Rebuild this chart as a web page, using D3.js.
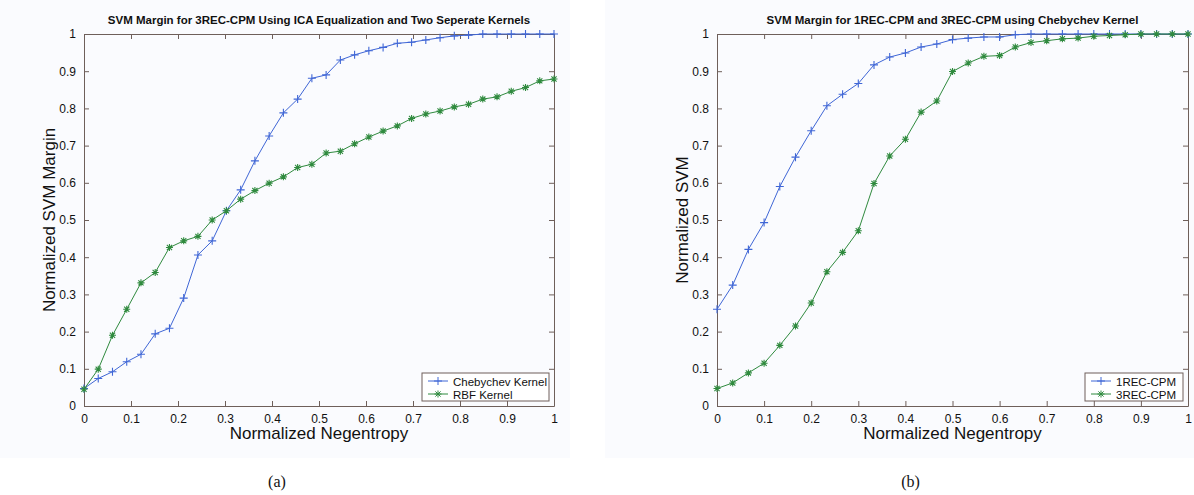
<!DOCTYPE html>
<html>
<head>
<meta charset="utf-8">
<script src="https://cdn.jsdelivr.net/npm/d3@7"></script>
<style>
  body { margin: 0; background: #fff; }
  svg { display: block; }
  text { font-family: Arial, "Liberation Sans", sans-serif; fill: #111; }
</style>
</head>
<body>
<svg id="chart" width="1194" height="495"></svg>
<script>
// panel (a): x = i/33
const chebyA = [0.047, 0.074, 0.092, 0.119, 0.139, 0.194, 0.209, 0.290, 0.406, 0.444,
  0.525, 0.581, 0.659, 0.726, 0.788, 0.825, 0.881, 0.890, 0.930, 0.944,
  0.955, 0.964, 0.975, 0.978, 0.984, 0.990, 0.995, 0.997, 1, 1, 1, 1, 1, 1];
const rbfA = [0.045, 0.099, 0.190, 0.260, 0.331, 0.359, 0.426, 0.444, 0.456, 0.500,
  0.525, 0.556, 0.579, 0.599, 0.616, 0.641, 0.650, 0.680, 0.685, 0.705,
  0.723, 0.739, 0.753, 0.773, 0.785, 0.793, 0.804, 0.811, 0.825, 0.831,
  0.846, 0.856, 0.874, 0.879];
// panel (b): x = i/30
const rec1B = [0.260, 0.325, 0.421, 0.493, 0.590, 0.669, 0.740, 0.807, 0.838, 0.867,
  0.917, 0.938, 0.949, 0.965, 0.973, 0.985, 0.989, 0.992, 0.992, 0.998,
  1, 1, 1, 1, 1, 1, 1, 1, 1, 1, 1];
const rec3B = [0.047, 0.062, 0.089, 0.115, 0.163, 0.215, 0.277, 0.361, 0.413, 0.471,
  0.598, 0.672, 0.717, 0.790, 0.820, 0.899, 0.922, 0.940, 0.942, 0.965,
  0.977, 0.982, 0.987, 0.989, 0.994, 0.996, 0.998, 1, 1, 1, 1];
const xTicks = [0, 0.1, 0.2, 0.3, 0.4, 0.5, 0.6, 0.7, 0.8, 0.9, 1];
const yTicks = [0, 0.1, 0.2, 0.3, 0.4, 0.5, 0.6, 0.7, 0.8, 0.9, 1];

const blue = "#3f66d6", green = "#2f8a3e", axisCol = "#6e5f5a";
const svg = d3.select("#chart");
const fmt = d => d === 0 || d === 1 ? String(d) : d3.format(".1f")(d);
const plus = "M-4,0H4M0,-4V4";
const star = "M-3.5,0H3.5M0,-3.5V3.5M-2.6,-2.6L2.6,2.6M-2.6,2.6L2.6,-2.6";

function panel(opts) {
  const g = svg.append("g");
  const [x0, x1, y0, y1] = opts.box;
  g.append("rect").attr("x", opts.bg[0]).attr("y", 0).attr("width", opts.bg[1])
    .attr("height", 458).attr("fill", "#fafbfe");

  const x = d3.scaleLinear().domain([0, 1]).range([x0, x1]);
  const y = d3.scaleLinear().domain([0, 1]).range([y1, y0]);

  // box with inward ticks on all four sides
  const axB = d3.axisBottom(x).tickValues(xTicks).tickSizeInner(-5).tickSizeOuter(0).tickPadding(8).tickFormat(fmt);
  const axT = d3.axisTop(x).tickValues(xTicks).tickSizeInner(-5).tickSizeOuter(0).tickFormat("");
  const axL = d3.axisLeft(y).tickValues(yTicks).tickSizeInner(-5).tickSizeOuter(0).tickPadding(8).tickFormat(fmt);
  const axR = d3.axisRight(y).tickValues(yTicks).tickSizeInner(-5).tickSizeOuter(0).tickFormat("");
  [[axB, `translate(0,${y1})`], [axT, `translate(0,${y0})`],
   [axL, `translate(${x0},0)`], [axR, `translate(${x1},0)`]].forEach(([ax, tr]) => {
    const a = g.append("g").attr("transform", tr).call(ax);
    a.select(".domain").attr("stroke", axisCol);
    a.selectAll(".tick line").attr("stroke", axisCol);
    a.selectAll("text").attr("font-size", 12).attr("fill", "#222")
      .attr("font-family", "Arial, 'Liberation Sans', sans-serif");
  });

  const line = d3.line().x(d => x(d[0])).y(d => y(d[1]));
  opts.series.forEach(s => {
    const pts = s.values.map((v, i) => [i / (s.values.length - 1), v]);
    g.append("path").datum(pts).attr("d", line).attr("fill", "none")
      .attr("stroke", s.color).attr("stroke-width", 1);
    g.selectAll(null).data(pts).enter().append("path")
      .attr("transform", d => `translate(${x(d[0])},${y(d[1])})`)
      .attr("d", s.marker === "+" ? plus : star)
      .attr("stroke", s.color).attr("stroke-width", 1.1).attr("fill", "none");
  });

  // title and labels
  g.append("text").attr("x", (x0 + x1) / 2).attr("y", 24).attr("text-anchor", "middle")
    .attr("font-size", 11.5).attr("font-weight", "bold").text(opts.title);
  g.append("text").attr("x", (x0 + x1) / 2).attr("y", 439).attr("text-anchor", "middle")
    .attr("font-size", 17).text("Normalized Negentropy");
  g.append("text").attr("transform", `translate(${x0 - 29},${(y0 + y1) / 2}) rotate(-90)`)
    .attr("text-anchor", "middle").attr("font-size", 17).text(opts.ylabel);
  g.append("text").attr("x", (x0 + x1) / 2 - 42).attr("y", 487).attr("text-anchor", "middle")
    .attr("font-size", 16).style("font-family", "'Liberation Serif', 'DejaVu Serif', serif")
    .text(opts.caption);

  // legend
  const [lx, ly, lw] = opts.legend;
  const lg = g.append("g").attr("transform", `translate(${lx},${ly})`);
  lg.append("rect").attr("width", lw).attr("height", 28).attr("fill", "#fff")
    .attr("stroke", axisCol).attr("stroke-width", 1);
  opts.series.forEach((s, i) => {
    const cy = 8 + i * 13;
    lg.append("line").attr("x1", 6).attr("x2", 26).attr("y1", cy).attr("y2", cy)
      .attr("stroke", s.color);
    lg.append("path").attr("transform", `translate(16,${cy})`)
      .attr("d", s.marker === "+" ? plus : star)
      .attr("stroke", s.color).attr("fill", "none");
    lg.append("text").attr("x", 31).attr("y", cy + 4.5).attr("font-size", 11.5).text(s.name);
  });
}

panel({
  box: [84, 554, 34, 406], bg: [0, 570],
  title: "SVM Margin for 3REC-CPM Using ICA Equalization and Two Seperate Kernels",
  ylabel: "Normalized SVM Margin", caption: "(a)",
  legend: [422, 373, 127],
  series: [
    { name: "Chebychev Kernel", values: chebyA, color: blue, marker: "+" },
    { name: "RBF Kernel", values: rbfA, color: green, marker: "*" }
  ]
});
panel({
  box: [717, 1188, 34, 406], bg: [605, 589],
  title: "SVM Margin for 1REC-CPM and 3REC-CPM using Chebychev Kernel",
  ylabel: "Normalized SVM", caption: "(b)",
  legend: [1085, 373, 98],
  series: [
    { name: "1REC-CPM", values: rec1B, color: blue, marker: "+" },
    { name: "3REC-CPM", values: rec3B, color: green, marker: "*" }
  ]
});
</script>
</body>
</html>
